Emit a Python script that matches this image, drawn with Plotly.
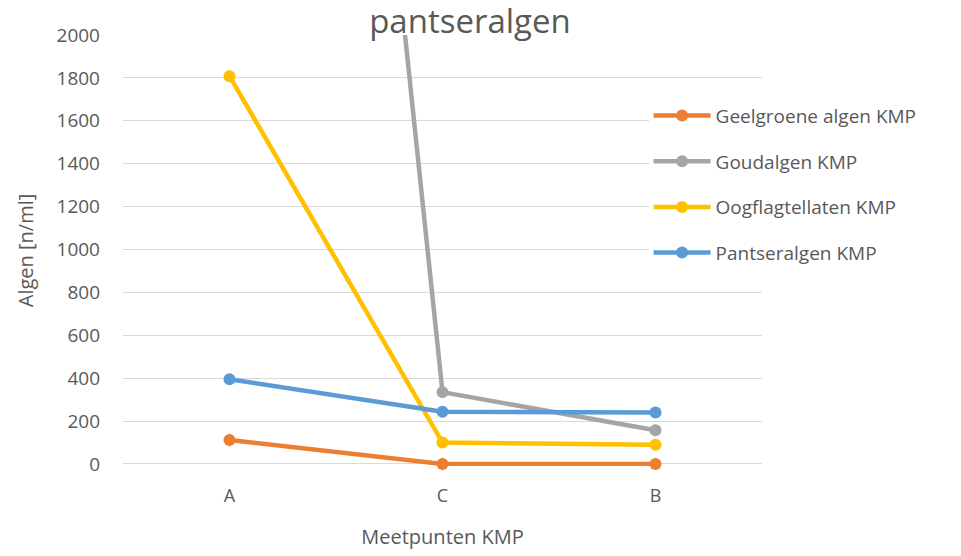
import plotly.graph_objects as go

categories = ["A", "C", "B"]
geelgroene = [112, 0, 0]
goudalgen = [9800, 335, 157]
oogflagellaten = [1808, 100, 90]
pantseralgen = [395, 244, 240]

series = [
    ("Geelgroene algen KMP", geelgroene, "#ED7D31"),
    ("Goudalgen KMP", goudalgen, "#A5A5A5"),
    ("Oogflagtellaten KMP", oogflagellaten, "#FFC000"),
    ("Pantseralgen KMP", pantseralgen, "#5B9BD5"),
]

font = "Open Sans, DejaVu Sans, sans-serif"
txt = "#595959"

fig = go.Figure()
for i, (name, vals, col) in enumerate(series):
    fig.add_trace(go.Scatter(
        x=categories, y=vals, name=name, mode="lines+markers",
        line=dict(color=col, width=4.5),
        marker=dict(color=col, size=12),
        legendgroup=f"g{i}", cliponaxis=(i == 1),
    ))

fig.update_layout(
    width=961, height=556,
    margin=dict(l=123, r=199, t=35, b=90, autoexpand=False),
    paper_bgcolor="white", plot_bgcolor="white",
    font=dict(family=font, color=txt, size=19),
    title=dict(text="pantseralgen", font=dict(size=33, color=txt, family=font),
               x=470 / 961, xanchor="center", xref="container",
               y=1 - 21 / 556, yanchor="middle", yref="container",
               pad=dict(t=0, b=0, l=0, r=0)),
    showlegend=True,
    legend=dict(x=0.8225, xanchor="left", y=0.857, yanchor="top",
                bgcolor="white", font=dict(size=19, color=txt),
                itemwidth=57, tracegroupgap=18, traceorder="grouped"),
    xaxis=dict(type="category", showgrid=False, zeroline=False, showline=False,
               ticks="", ticklabelstandoff=17, automargin=False,
               tickfont=dict(size=18, color=txt),
               title=dict(text="Meetpunten KMP", font=dict(size=20, color=txt), standoff=23),
               range=[-0.5, 2.5]),
    yaxis=dict(range=[-9.4, 2000], tick0=0, dtick=200, showgrid=True, gridcolor="#D9D9D9",
               gridwidth=1.3, zeroline=False, showline=False, ticks="", ticklabelstandoff=22,
               automargin=False, tickfont=dict(size=19, color=txt),
               title=dict(text="Algen [n/ml]", font=dict(size=20, color=txt), standoff=17)),
)

fig.write_html("out.html", config={"displayModeBar": False},
               post_script="document.body.style.margin='0';document.body.style.padding='0';")
